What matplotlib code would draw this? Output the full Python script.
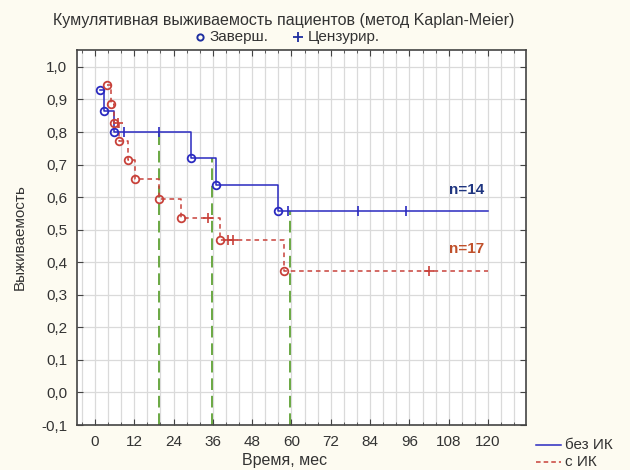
import numpy as np
import matplotlib
matplotlib.use("Agg")
import matplotlib.pyplot as plt
from matplotlib.lines import Line2D
from matplotlib.ticker import FuncFormatter, MultipleLocator

plt.rcParams['font.family'] = ['Liberation Sans', 'DejaVu Sans']

# группа без ИК (n=14)
blue_t = [1.7, 2.8, 5.9, 29.2, 37.0, 55.8]
blue_s = [0.93, 0.865, 0.80, 0.72, 0.637, 0.558]
blue_cens = [8.9, 19.5, 58.8, 80.2, 95.0]

# группа с ИК (n=17)
red_t = [3.6, 4.8, 5.9, 7.3, 10.0, 12.2, 19.5, 26.3, 38.3, 57.7]
red_s = [0.943, 0.885, 0.828, 0.772, 0.714, 0.655, 0.595, 0.536, 0.468, 0.374]
red_cens = [7.0, 34.6, 40.5, 42.2, 102.0]

t_end = 120

# медианы (зелёные линии)
med_t = [19.5, 35.6, 59.7]
med_top = [0.80, 0.72, 0.558]

blue_c = '#2a2ac0'
red_c = '#c8413a'
green_c = '#6aa843'
txt_c = '#333333'


def step_value(ts, ss, x):
    i = np.searchsorted(ts, x, side='right') - 1
    return ss[max(i, 0)]


fig = plt.figure(figsize=(6.3, 4.7), dpi=100, facecolor='#fdfbf1')
ax = fig.add_axes([0.122, 0.0957, 0.713, 0.798])
ax.set_facecolor('white')

ax.vlines(med_t, -0.1, med_top, colors=green_c, linestyles=(0, (6, 3)), lw=1.4, zorder=2)

ax.step(blue_t + [t_end], blue_s + [blue_s[-1]], where='post', color=blue_c, lw=1.1, zorder=3)
ax.plot(blue_t, blue_s, 'o', mfc='none', mec=blue_c, ms=5.5, mew=1.3, zorder=4)
ax.plot(blue_cens, [step_value(blue_t, blue_s, x) for x in blue_cens], '|', color=blue_c,
        ms=7, mew=1.2, zorder=4)

ax.step(red_t + [t_end], red_s + [red_s[-1]], where='post', color=red_c, lw=1.1,
        ls=(0, (3, 2.5)), zorder=3)
ax.plot(red_t, red_s, 'o', mfc='none', mec=red_c, ms=5.5, mew=1.3, zorder=4)
ax.plot(red_cens, [step_value(red_t, red_s, x) for x in red_cens], '+', color=red_c,
        ms=7, mew=1.2, zorder=4)

ax.text(113.5, 0.622, 'n=14', color='#1f3580', fontsize=11, fontweight='bold', ha='center', va='center')
ax.text(113.5, 0.44, 'n=17', color='#c0502a', fontsize=11, fontweight='bold', ha='center', va='center')

ax.set_xlim(-5.5, 131.6)
ax.set_ylim(-0.1, 1.052)
ax.xaxis.set_minor_locator(MultipleLocator(4))
ax.yaxis.set_major_locator(MultipleLocator(0.1))
ax.yaxis.set_major_formatter(FuncFormatter(lambda v, p: f"{v:.1f}".replace('.', ',')))
ax.set_xticks(range(0, 121, 12))
ax.grid(True, which='both', axis='x', color='#dadada', lw=0.9, zorder=0)
ax.grid(True, which='major', axis='y', color='#dadada', lw=0.9, zorder=0)
ax.set_axisbelow(True)
ax.tick_params(which='both', direction='in', top=True, right=True, labelsize=11,
               labelcolor=txt_c, color='#444444', pad=7)
ax.tick_params(which='major', length=4)
ax.tick_params(which='minor', length=2)
for sp in ax.spines.values():
    sp.set_color('#444444')
    sp.set_linewidth(1.2)

ax.set_xlabel('Время, мес', fontsize=11.5, color=txt_c, labelpad=3)
ax.xaxis.set_label_coords(0.463, -0.075)
ax.set_ylabel('Выживаемость', fontsize=11, color=txt_c, labelpad=10)

fig.text(0.45, 0.957, 'Кумулятивная выживаемость пациентов (метод Kaplan-Meier)',
         ha='center', va='center', fontsize=11.5, color=txt_c)

# верхняя легенда
top_y = 0.922
fig.add_artist(Line2D([200 / 630], [top_y], transform=fig.transFigure, ls='none', marker='o',
                      mfc='none', mec='#1f2fa0', ms=4.5, mew=1.4))
fig.text(210 / 630, top_y, 'Заверш.', ha='left', va='center', fontsize=11, color=txt_c)
fig.add_artist(Line2D([298 / 630], [top_y], transform=fig.transFigure, ls='none', marker='+',
                      color='#1f2fa0', ms=6.5, mew=1.3))
fig.text(308 / 630, top_y, 'Цензурир.', ha='left', va='center', fontsize=11, color=txt_c)

# нижняя легенда
for yy, col, ls, lab in [(445, blue_c, '-', 'без ИК'), (462, red_c, (0, (3, 2)), 'с ИК')]:
    yf = 1 - yy / 470
    fig.add_artist(Line2D([536 / 630, 561 / 630], [yf, yf], transform=fig.transFigure,
                          color=col, lw=1.1, ls=ls))
    fig.text(565 / 630, yf, lab, ha='left', va='center', fontsize=11, color=txt_c)

fig.savefig('out.png', dpi=100, facecolor=fig.get_facecolor())
